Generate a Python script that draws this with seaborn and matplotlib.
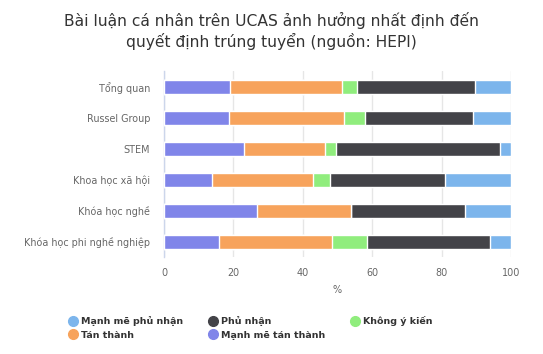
import matplotlib
matplotlib.use("Agg")
import matplotlib.pyplot as plt
import seaborn as sns
import pandas as pd
import numpy as np
from matplotlib.lines import Line2D

categories = ["Tổng quan", "Russel Group", "STEM", "Khoa học xã hội",
              "Khóa học nghề", "Khóa học phi nghề nghiệp"]
manh_me_tan_thanh = [19.1, 18.8, 23.1, 13.9, 26.9, 15.9]
tan_thanh = [32.3, 33.1, 23.4, 29.1, 27.1, 32.6]
khong_y_kien = [4.1, 6.0, 3.1, 4.9, 0.0, 10.1]
phu_nhan = [34.2, 31.1, 47.2, 33.0, 32.8, 35.3]
manh_me_phu_nhan = [10.3, 11.0, 3.2, 19.1, 13.2, 6.1]

series_names = ["Mạnh mẽ tán thành", "Tán thành", "Không ý kiến", "Phủ nhận", "Mạnh mẽ phủ nhận"]
series_values = [manh_me_tan_thanh, tan_thanh, khong_y_kien, phu_nhan, manh_me_phu_nhan]
colors = {"Mạnh mẽ tán thành": "#8085e9", "Tán thành": "#f7a35c",
          "Không ý kiến": "#90ed7d", "Phủ nhận": "#434348",
          "Mạnh mẽ phủ nhận": "#7cb5ec"}

sns.set_theme(style="white")
plt.rcParams["font.family"] = ["DejaVu Sans"]

fig = plt.figure(figsize=(5.43, 3.54), dpi=100)
ax = fig.add_axes([164/543, 1-257.2/354, (511-164)/543, (257.2-71.2)/354])

cum = np.cumsum(np.array(series_values), axis=0)
# draw from the largest cumulative to smallest so segments appear stacked
for i in range(len(series_names)-1, -1, -1):
    df = pd.DataFrame({"cat": categories, "val": cum[i]})
    sns.barplot(data=df, y="cat", x="val", orient="h", color=colors[series_names[i]],
                width=0.45, edgecolor="white", linewidth=1, saturation=1, ax=ax, zorder=3)

ax.set_xlim(0, 100)
ax.set_xticks([0, 20, 40, 60, 80, 100])
ax.xaxis.grid(True, color="#e6e6e6", linewidth=1, zorder=0)
ax.set_axisbelow(True)
for s in ["top", "right", "bottom"]:
    ax.spines[s].set_visible(False)
ax.spines["left"].set_color("#ccd6eb")
ax.spines["left"].set_linewidth(1)
ax.tick_params(axis="both", length=0, labelsize=6.9, colors="#666666")
ax.tick_params(axis="x", pad=8)
ax.tick_params(axis="y", pad=10)
ax.set_ylabel("")
ax.set_xlabel("%", fontsize=6.9, color="#666666", labelpad=5)

fig.text(0.5, 1-20/354, "Bài luận cá nhân trên UCAS ảnh hưởng nhất định đến", ha="center",
         va="center", fontsize=11.2, color="#333333")
fig.text(0.5, 1-41/354, "quyết định trúng tuyển (nguồn: HEPI)", ha="center",
         va="center", fontsize=11.2, color="#333333")

def h(name):
    return Line2D([0], [0], marker="o", linestyle="", markersize=7,
                  markerfacecolor=colors[name], markeredgecolor=colors[name])

order = ["Mạnh mẽ phủ nhận", "Tán thành", "Phủ nhận", "Mạnh mẽ tán thành", "Không ý kiến"]
leg = fig.legend([h(n) for n in order], order, ncol=3, loc="center",
                 bbox_to_anchor=(0.5 - 21/543, 1-328/354), frameon=False,
                 prop={"weight": "bold", "size": 6.8}, labelcolor="#333333",
                 handletextpad=0.4, columnspacing=2.6, labelspacing=0.45,
                 handlelength=1.0)

fig.savefig("out.png", dpi=100)
